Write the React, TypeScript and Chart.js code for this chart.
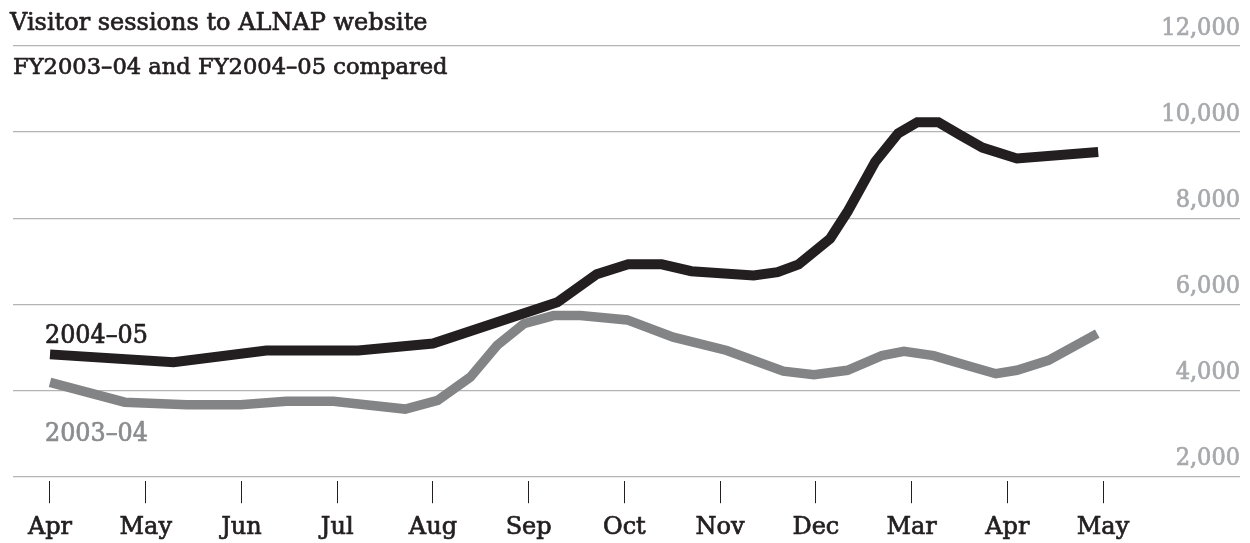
import React, { useEffect, useRef } from "react";
import { Chart, registerables } from "chart.js";

Chart.register(...registerables);

const monthLabels = ["Apr", "May", "Jun", "Jul", "Aug", "Sep", "Oct", "Nov", "Dec", "Mar", "Apr", "May"];
const yTickValues = [2000, 4000, 6000, 8000, 10000, 12000];

// Month position (0 = first Apr) and visitor sessions
const fy0405X = [0, 1.29, 2.26, 3.22, 4.0, 5.3, 5.71, 6.04, 6.39, 6.7, 7.35, 7.6, 7.82, 8.15, 8.33, 8.62, 8.86, 9.06, 9.28, 9.51, 9.74, 10.1, 10.95];
const fy0405Y = [4840, 4660, 4930, 4930, 5090, 6050, 6700, 6930, 6930, 6770, 6670, 6750, 6930, 7530, 8150, 9310, 9970, 10230, 10230, 9930, 9640, 9390, 9540];

const fy0304X = [0, 0.78, 1.43, 1.99, 2.47, 2.96, 3.71, 4.05, 4.39, 4.67, 4.95, 5.26, 5.54, 6.03, 6.51, 7.07, 7.66, 7.98, 8.33, 8.69, 8.92, 9.23, 9.58, 9.88, 10.1, 10.43, 10.94];
const fy0304Y = [4190, 3730, 3670, 3670, 3750, 3750, 3570, 3770, 4310, 5050, 5550, 5740, 5740, 5640, 5240, 4930, 4450, 4370, 4470, 4810, 4910, 4810, 4580, 4390, 4470, 4700, 5320];

const titleText = "Visitor sessions to ALNAP website";
const subtitleText = "FY2003–04 and FY2004–05 compared";
const seriesNames = ["2004–05", "2003–04"];

const SERIF = "'DejaVu Serif', serif";
const DIGIT_SERIF = "'DejaVu Serif Condensed', 'DejaVu Serif', serif";

function heavyText(ctx: CanvasRenderingContext2D, text: string, x: number, y: number, color: string, w: number) {
  ctx.fillStyle = color;
  ctx.strokeStyle = color;
  ctx.lineWidth = w;
  ctx.lineJoin = "round";
  ctx.strokeText(text, x, y);
  ctx.fillText(text, x, y);
}

const textPlugin = {
  id: "textPlugin",
  afterDraw(chart: any) {
    const ctx = chart.ctx;
    ctx.save();
    ctx.textAlign = "left";
    ctx.textBaseline = "alphabetic";
    ctx.font = `24px ${SERIF}`;
    heavyText(ctx, titleText, 10, 30, "#231f20", 0.7);
    ctx.font = `22.6px ${SERIF}`;
    heavyText(ctx, subtitleText, 13, 74, "#231f20", 0.7);
    ctx.font = `26.5px ${DIGIT_SERIF}`;
    heavyText(ctx, seriesNames[0], 45, 343, "#231f20", 0.7);
    heavyText(ctx, seriesNames[1], 45, 441, "#8a8c8e", 0.7);
    ctx.restore();
  },
};

export default function App() {
  const ref = useRef<HTMLCanvasElement | null>(null);
  useEffect(() => {
    document.body.style.margin = "0";
    if (!ref.current) return;
    const chart = new Chart(ref.current, {
      type: "line",
      data: {
        datasets: [
          {
            label: seriesNames[0],
            data: fy0405X.map((x, i) => ({ x, y: fy0405Y[i] })),
            borderColor: "#231f20",
            borderWidth: 10,
            pointRadius: 0,
            tension: 0,
            fill: false,
          },
          {
            label: seriesNames[1],
            data: fy0304X.map((x, i) => ({ x, y: fy0304Y[i] })),
            borderColor: "#838486",
            borderWidth: 9.5,
            pointRadius: 0,
            tension: 0,
            fill: false,
          },
        ],
      },
      options: {
        animation: false,
        responsive: false,
        devicePixelRatio: 1,
        layout: { padding: { left: 13, right: 10, top: 46, bottom: -9 } },
        plugins: { legend: { display: false }, tooltip: { enabled: false }, title: { display: false } },
        scales: {
          x: {
            type: "linear",
            position: "bottom",
            min: -0.3865,
            max: 12.431,
            afterBuildTicks: (scale: any) => {
              scale.ticks = monthLabels.map((_, i) => ({ value: i }));
            },
            grid: {
              drawOnChartArea: false,
              drawTicks: true,
              tickLength: 22,
              color: "#231f20",
              lineWidth: 1,
            },
            border: { display: false },
            ticks: {
              autoSkip: false,
              maxRotation: 0,
              padding: 10,
              color: "#231f20",
              textStrokeColor: "#231f20",
              textStrokeWidth: 0.7,
              font: { family: SERIF, size: 24 },
              callback: (_v: any, i: number) => monthLabels[i],
            },
          },
          y: {
            type: "linear",
            position: "right",
            min: 1895,
            max: 12000,
            afterBuildTicks: (scale: any) => {
              scale.ticks = yTickValues.map((v) => ({ value: v }));
            },
            grid: { color: "#b4b4b4", lineWidth: 1.3, drawTicks: false },
            border: { display: false },
            ticks: {
              mirror: true,
              labelOffset: -18,
              padding: 0,
              color: "#a7a9ac",
              textStrokeColor: "#a7a9ac",
              textStrokeWidth: 0.7,
              font: { family: DIGIT_SERIF, size: 25 },
              callback: (v: any) => Number(v).toLocaleString("en-US"),
            },
          },
        },
      },
      plugins: [textPlugin],
    });
    return () => chart.destroy();
  }, []);
  return <canvas ref={ref} width={1250} height={543} style={{ display: "block", width: 1250, height: 543 }} />;
}
